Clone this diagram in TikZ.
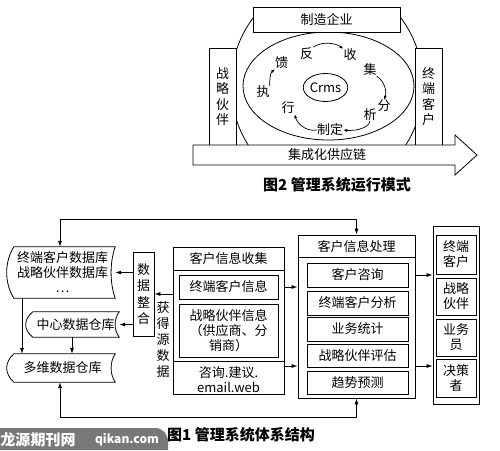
\documentclass[tikz,border=0pt]{standalone}
\usepackage{fontspec}
\setmainfont{Noto Sans CJK SC}
\usetikzlibrary{arrows.meta,calc,shapes.geometric}
\definecolor{wm}{RGB}{120,120,120}
\newcommand\storedshape[1]{%
 \draw[ln] ($(#1.north west)+(4pt,0pt)$) -- (#1.north east)
  .. controls ($(#1.north east)!0.3!(#1.south east)+(-5.5pt,0pt)$) and ($(#1.north east)!0.7!(#1.south east)+(-5.5pt,0pt)$) .. (#1.south east)
  -- ($(#1.south west)+(4pt,0pt)$)
  .. controls ($(#1.south west)!0.3!(#1.north west)+(-5.5pt,0pt)$) and ($(#1.south west)!0.7!(#1.north west)+(-5.5pt,0pt)$) .. ($(#1.north west)+(4pt,0pt)$) -- cycle;}
\begin{document}
\begin{tikzpicture}[x=1pt,y=-1pt,
  ln/.style={line width=0.8pt},
  box/.style={draw, line width=0.8pt, fill=white, inner sep=0pt, font=\fontsize{13}{15}\selectfont, align=center},
  lbl/.style={inner sep=0pt, font=\fontsize{13}{15}\selectfont, align=center},
  vbox/.style={box, font=\fontsize{13}{15.5}\selectfont},
  arr/.style={line width=0.8pt, -{Latex[length=6pt,width=4pt]}},
  darr/.style={line width=0.8pt, {Latex[length=6pt,width=4pt]}-{Latex[length=6pt,width=4pt]}},
  carr/.style={line width=0.7pt, -{Latex[length=4pt,width=3pt]}},
  captxt/.style={inner sep=0pt, font=\fontsize{15}{17}\selectfont\bfseries},
]
\useasboundingbox (0,0) rectangle (500,450);

% ---------- Figure 2 ----------
\begin{scope}
 \clip (0,8) rectangle (500,145);
 \draw[ln] (327,85) ellipse [x radius=96pt, y radius=105pt];
\end{scope}
\draw[ln] (328.5,86) ellipse [x radius=85.5pt, y radius=54pt];
\node[box, minimum width=147pt, minimum height=25pt] (zzqy) at (326.5,19.5) {制造企业};
\node[vbox, minimum width=27pt, minimum height=97pt] (zlhb) at (222.5,96.5) {战\\略\\伙\\伴};
\node[vbox, minimum width=27pt, minimum height=97pt] (zdkh) at (428.5,96.5) {终\\端\\客\\户};
\node[draw, ellipse, line width=0.8pt, minimum width=38pt, minimum height=28pt, inner sep=0pt, font=\fontsize{13}{15}\selectfont] (crms) at (325.5,87.5) {Crms};

\node[lbl] (fan) at (306.7,53.3) {反};
\node[lbl] (shou) at (350,55) {收};
\node[lbl] (ji) at (370,70) {集};
\node[lbl] (fen) at (384,106) {分};
\node[lbl] (xi) at (370,115) {析};
\node[lbl] (zd) at (330,130) {制定};
\node[lbl] (xing) at (288,108) {行};
\node[lbl] (zhi) at (263,92) {执};
\node[lbl] (kui) at (281.7,63) {馈};

\draw[carr] (fan.north east) .. controls +(8,-6) and +(-8,-6) .. (shou.north west);
\draw[carr] (ji.south east) .. controls +(8,5) and +(3,-8) .. (fen.north);
\draw[carr] (xi.south) .. controls +(-2,8) and +(10,1) .. (zd.east);
\draw[carr] (zd.west) .. controls +(-12,2) and +(2,8) .. (xing.south east);
\draw[carr] (zhi.north east) .. controls +(0,-6) and +(-5,4) .. (kui.south west);

\draw[ln, fill=white] (193,145) -- (455,145) -- (455,135) -- (477,155) -- (455,175) -- (455,165) -- (193,165) -- cycle;
\node[lbl] (chain) at (327,155) {集成化供应链};

\node[captxt] (cap2) at (337,185) {图2 管理系统运行模式};

% ---------- Figure 1 ----------
\node[lbl, minimum width=105pt, minimum height=51pt] (db1) at (62.5,272.5) {终端客户数据库\\战略伙伴数据库\\…};
\storedshape{db1}
\node[lbl, minimum width=90pt, minimum height=25pt] (cdw) at (74,324.5) {\hspace*{3pt}中心数据仓库};
\storedshape{cdw}
\node[lbl, minimum width=105pt, minimum height=28pt] (mdw) at (62.5,368) {多维数据仓库};
\storedshape{mdw}

\node[box, minimum width=21pt, minimum height=84pt, font=\fontsize{13}{16.5}\selectfont] (sjzh) at (143.5,294) {数\\据\\整\\合};
\node[lbl, font=\fontsize{13}{16}\selectfont] (hdy) at (163,340) {获\\得\\源\\数\\据};

% collection
\node[draw, ln, minimum width=111pt, minimum height=147pt, inner sep=0pt] (coll) at (228.5,320.5) {};
\draw[ln] (coll.north west) ++(0,24) -- ++(111,0);
\node[lbl] (collt) at (228.5,259) {客户信息收集};
\node[box, minimum width=99pt, minimum height=24pt] (c1) at (228.5,287) {终端客户信息};
\node[box, minimum width=99pt, minimum height=53pt] (c2) at (228.5,330.5) {战略伙伴信息\\（供应商、分\\销商）};
\draw[ln] (coll.north west) ++(0,115) -- ++(111,0);
\node[lbl] (c3) at (228.5,379.5) {咨询.建议.\\email.web};

% processing
\node[draw, ln, minimum width=117pt, minimum height=163pt, inner sep=0pt] (proc) at (356.5,316.5) {};
\draw[ln] (proc.north west) ++(0,23) -- ++(117,0);
\node[lbl] (proct) at (356.5,247) {客户信息处理};
\node[box, minimum width=101pt, minimum height=24pt] (p1) at (357.5,275) {客户咨询};
\node[box, minimum width=101pt, minimum height=24pt] (p2) at (357.5,303) {终端客户分析};
\node[box, minimum width=101pt, minimum height=24pt] (p3) at (357.5,329) {业务统计};
\node[box, minimum width=101pt, minimum height=23pt] (p4) at (357.5,355.5) {战略伙伴评估};
\node[box, minimum width=101pt, minimum height=23pt] (p5) at (357.5,382.5) {趋势预测};

% users panel
\node[draw, ln, minimum width=46pt, minimum height=178pt, inner sep=0pt] (panel) at (456,315) {};
\node[box, minimum width=40pt, minimum height=39pt] (r1) at (456,254.5) {终端\\客户};
\node[box, minimum width=40pt, minimum height=37pt] (r2) at (456,296.5) {战略\\伙伴};
\node[box, minimum width=40pt, minimum height=37pt] (r3) at (456,337.5) {业务\\员};
\node[box, minimum width=40pt, minimum height=38pt] (r4) at (456,378) {决策\\者};

% connectors
\coordinate (lvl2) at (0,366);
\coordinate (ytop) at (0,219);
\coordinate (ybot) at (0,417);
\draw[arr] (coll.east |- c1) -- (proc.west |- c1);
\draw[arr] (coll.east |- lvl2) -- (proc.west |- lvl2);
\draw[arr] (proc.east |- p1) -- (panel.west |- p1);
\draw[arr] (proc.east |- lvl2) -- (panel.west |- lvl2);
\draw[arr] (coll.west |- sjzh) -- (sjzh.east);
\draw[arr] (sjzh.west |- db1) -- (db1.east);
\draw[arr] (sjzh.west |- cdw) -- (cdw.east);
\draw[arr] ([xshift=-40.5pt]db1.south) -- ([xshift=-40.5pt]db1.south |- mdw.north);
\draw[arr] ([xshift=-2pt]cdw.south) -- ([xshift=-2pt]cdw.south |- mdw.north);
\draw[darr] ([xshift=-2.5pt]db1.north) |- (ytop -| proc.north) -- (proc.north);
\draw[darr] ([xshift=-2.5pt]mdw.south) |- (ybot -| proc.south) -- (proc.south);

\node[captxt] (cap1) at (241,435) {图1 管理系统体系结构};

% watermark banner
\fill[wm] (0,428) -- (155,428) .. controls (163,428) and (168,434) .. (168,442) -- (168,450) -- (0,450) -- cycle;
\node[inner sep=0pt, text=white, font=\fontsize{15}{15}\selectfont\bfseries] (wm1) at (38,440) {龙源期刊网};
\node[inner sep=0pt, text=white, font=\fontsize{12}{12}\selectfont\bfseries] (wm2) at (127,440) {qikan.com};
\end{tikzpicture}
\end{document}
